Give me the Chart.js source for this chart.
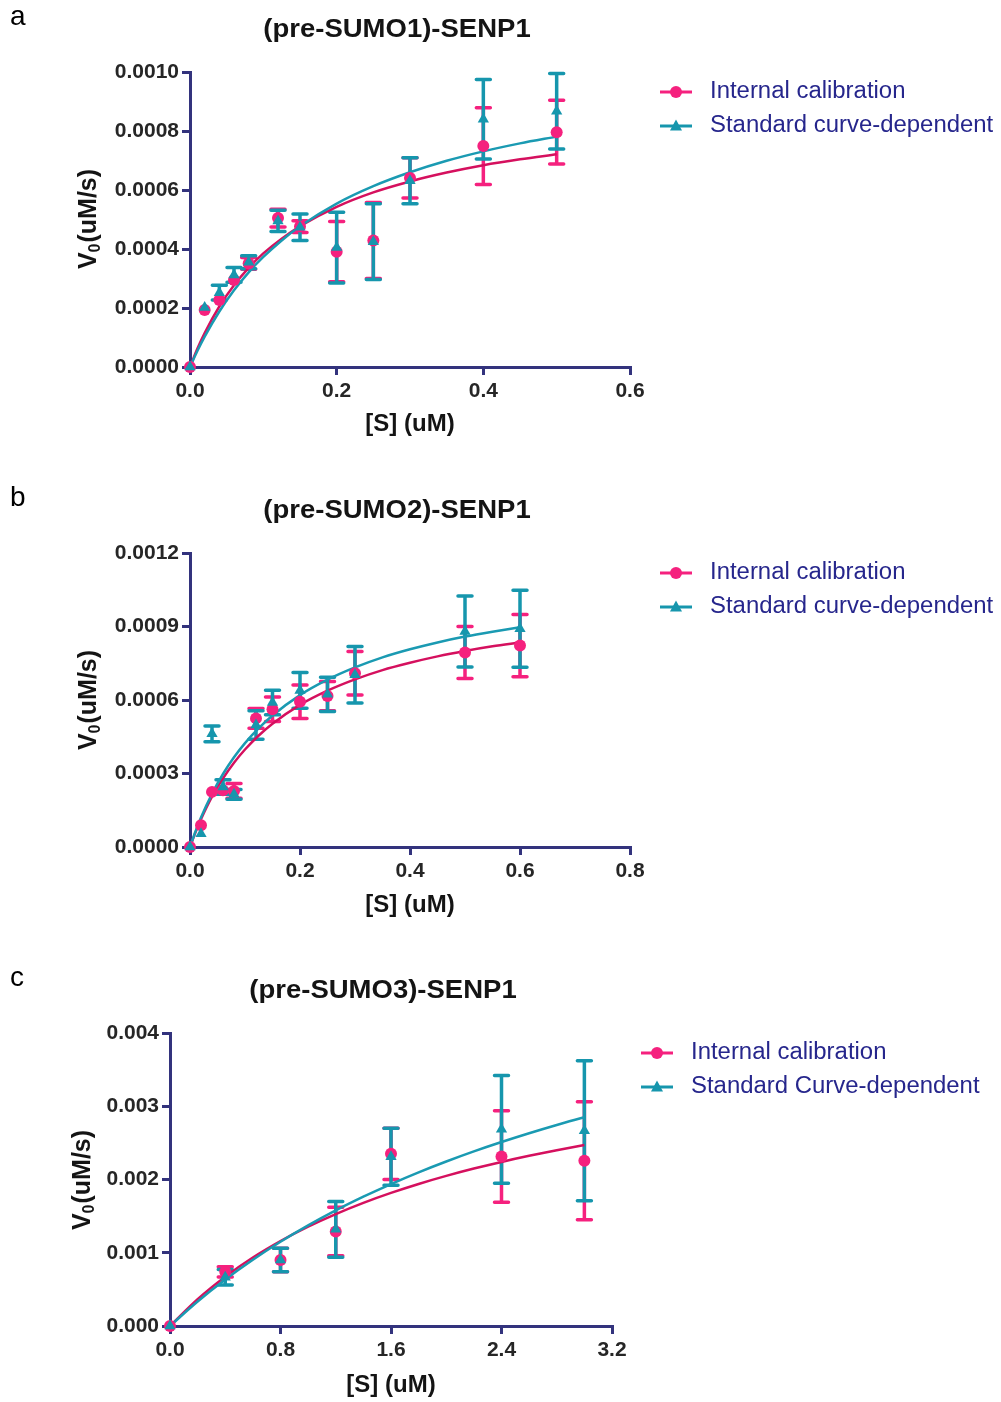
<!DOCTYPE html>
<html><head><meta charset="utf-8">
<script src="https://cdn.jsdelivr.net/npm/chart.js@4.4.1/dist/chart.umd.min.js"></script>
<style>
html,body{margin:0;padding:0;background:#fff;overflow:hidden;width:1001px;height:1402px;}
canvas{position:absolute;left:0;}
</style></head>
<body>
<canvas id="ca" width="1001" height="480" style="top:0px"></canvas>
<canvas id="cb" width="1001" height="480" style="top:481px"></canvas>
<canvas id="cc" width="1001" height="441" style="top:961px"></canvas>
<script>
// ---------- Panel a: (pre-SUMO1)-SENP1 ----------
const aS      = [0, 0.02, 0.04, 0.06, 0.08, 0.12, 0.15, 0.2, 0.25, 0.3, 0.4, 0.5];
const aInt    = [0, 0.000193, 0.000227, 0.000295, 0.000351, 0.000505, 0.000476, 0.000391, 0.000429, 0.000641, 0.000749, 0.000796];
const aIntSD  = [0, 0, 0, 0, 0.00002, 0.00003, 0.00002, 0.000102, 0.000129, 0.000068, 0.00013, 0.000108];
const aStd    = [0, 0.000202, 0.000252, 0.000312, 0.000355, 0.000495, 0.000474, 0.000405, 0.000425, 0.000631, 0.00084, 0.000867];
const aStdSD  = [0, 0, 0.000025, 0.000025, 0.000022, 0.000036, 0.000045, 0.00012, 0.000128, 0.000078, 0.000135, 0.000128];
const aFitX   = [0, 0.01, 0.02, 0.04, 0.06, 0.08, 0.1, 0.125, 0.15, 0.2, 0.25, 0.3, 0.35, 0.4, 0.45, 0.5];
const aFitInt = [0, 0.0000615, 0.000115, 0.000205, 0.000277, 0.000336, 0.000385, 0.000435, 0.000477, 0.000543, 0.000592, 0.000629, 0.000659, 0.000684, 0.000704, 0.000721];
const aFitStd = [0, 0.0000542, 0.000103, 0.000188, 0.00026, 0.000321, 0.000373, 0.000429, 0.000477, 0.000554, 0.000613, 0.00066, 0.000699, 0.000731, 0.000758, 0.000781];
const aXTicks = [0, 0.2, 0.4, 0.6];
const aYTicks = [0, 0.0002, 0.0004, 0.0006, 0.0008, 0.001];

// ---------- Panel b: (pre-SUMO2)-SENP1 ----------
const bS      = [0, 0.02, 0.04, 0.06, 0.08, 0.12, 0.15, 0.2, 0.25, 0.3, 0.5, 0.6];
const bInt    = [0, 0.0000886, 0.000225, 0.000232, 0.000229, 0.000525, 0.000562, 0.000593, 0.000616, 0.000709, 0.000794, 0.000822];
const bIntSD  = [0, 0, 0, 0, 0.00003, 0.00004, 0.00005, 0.000068, 0.00006, 0.000089, 0.000106, 0.000127];
const bStd    = [0, 0.0000545, 0.000462, 0.000245, 0.000215, 0.000498, 0.00059, 0.000639, 0.000623, 0.000703, 0.00088, 0.000891];
const bStdSD  = [0, 0, 0.000032, 0.00003, 0.00002, 0.000058, 0.00005, 0.000073, 0.00007, 0.000115, 0.000145, 0.000157];
const bFitX   = [0, 0.01, 0.02, 0.04, 0.06, 0.08, 0.1, 0.125, 0.15, 0.2, 0.25, 0.3, 0.35, 0.4, 0.45, 0.5, 0.55, 0.6];
const bFitInt = [0, 0.0000598, 0.000113, 0.000205, 0.00028, 0.000344, 0.000398, 0.000455, 0.000503, 0.00058, 0.000638, 0.000684, 0.000722, 0.000752, 0.000778, 0.0008, 0.000819, 0.000835];
const bFitStd = [0, 0.0000633, 0.00012, 0.000217, 0.000298, 0.000366, 0.000424, 0.000485, 0.000537, 0.00062, 0.000683, 0.000733, 0.000774, 0.000807, 0.000835, 0.000859, 0.000879, 0.000897];
const bXTicks = [0, 0.2, 0.4, 0.6, 0.8];
const bYTicks = [0, 0.0003, 0.0006, 0.0009, 0.0012];

// ---------- Panel c: (pre-SUMO3)-SENP1 ----------
const cS      = [0, 0.4, 0.8, 1.2, 1.6, 2.4, 3.0];
const cInt    = [0, 0.00074, 0.0009, 0.00129, 0.00235, 0.002315, 0.002255];
const cIntSD  = [0, 0.00007, 0.00016, 0.00033, 0.00035, 0.000625, 0.000805];
const cStd    = [0, 0.000665, 0.0009, 0.00132, 0.00231, 0.002685, 0.002665];
const cStdSD  = [0, 0.000105, 0.00016, 0.00038, 0.00039, 0.000735, 0.000955];
const cFitX   = [0, 0.2, 0.4, 0.6, 0.8, 1.0, 1.2, 1.4, 1.6, 1.8, 2.0, 2.2, 2.4, 2.6, 2.8, 3.0];
const cFitInt = [0, 0.000366, 0.000673, 0.000935, 0.00116, 0.001356, 0.001528, 0.001681, 0.001817, 0.001939, 0.002049, 0.002149, 0.00224, 0.002323, 0.002399, 0.00247];
const cFitStd = [0, 0.000334, 0.000634, 0.000905, 0.00115, 0.001373, 0.001578, 0.001765, 0.001938, 0.002098, 0.002246, 0.002384, 0.002512, 0.002632, 0.002745, 0.00285];
const cXTicks = [0, 0.8, 1.6, 2.4, 3.2];
const cYTicks = [0, 0.001, 0.002, 0.003, 0.004];

const seriesLabels = ['Internal calibration', 'Standard curve-dependent', 'Standard Curve-dependent'];

// ---------- styles ----------
const FAM = '"Liberation Sans", Arial, sans-serif';
const PINK = '#f5217e';
const PINK_LINE = '#d5105e';
const TEAL = '#1696ad';
const TEAL_LINE = '#1a9ab2';
const AXIS = '#33337d';
const TICK = '#262626';
const LEG_TEXT = '#26268c';

function txt(ctx, s, x, y, font, color, sx, align, base) {
  ctx.save();
  ctx.font = font; ctx.fillStyle = color;
  ctx.textAlign = align || 'center'; ctx.textBaseline = base || 'middle';
  ctx.translate(x, y); ctx.scale(sx, 1);
  ctx.fillText(s, 0, 0);
  ctx.restore();
}
function marker(ctx, style, x, y, r, color) {
  ctx.save(); ctx.fillStyle = color; ctx.beginPath();
  if (style === 'circle') { ctx.arc(x, y, r, 0, Math.PI * 2); }
  else { ctx.moveTo(x, y - r * 1.1); ctx.lineTo(x + r, y + r * 0.75); ctx.lineTo(x - r, y + r * 0.75); ctx.closePath(); }
  ctx.fill(); ctx.restore();
}

const errorBars = {
  id: 'errorBars',
  beforeDatasetsDraw(chart) {
    const ctx = chart.ctx, xs = chart.scales.x, ys = chart.scales.y;
    [0, 1].forEach(di => {
      const ds = chart.data.datasets[di];
      ctx.save();
      ctx.strokeStyle = ds.backgroundColor; ctx.lineWidth = 3.5; ctx.lineCap = 'round';
      ds.data.forEach((pt, i) => {
        const sd = ds.sd[i]; if (!sd) return;
        const px = xs.getPixelForValue(pt.x);
        const t = ys.getPixelForValue(pt.y + sd), b = ys.getPixelForValue(pt.y - sd);
        ctx.beginPath();
        ctx.moveTo(px, t); ctx.lineTo(px, b);
        ctx.moveTo(px - 7, t); ctx.lineTo(px + 7, t);
        ctx.moveTo(px - 7, b); ctx.lineTo(px + 7, b);
        ctx.stroke();
      });
      ctx.restore();
    });
  }
};

const decor = {
  id: 'decor',
  afterDraw(chart, args, o) {
    const ctx = chart.ctx;
    txt(ctx, o.letter, 10, 25, '28px ' + FAM, '#000', 1, 'left', 'alphabetic');
    txt(ctx, o.title, o.titleX, 37, 'bold 25px ' + FAM, '#141414', 1.1, 'center', 'alphabetic');
    txt(ctx, '[S] (uM)', o.xTitleX, 424, 'bold 24px ' + FAM, '#141414', 1, 'center', 'middle');
    // y title with subscript, rotated
    ctx.save();
    ctx.translate(o.yTitleX, 219); ctx.rotate(-Math.PI / 2);
    ctx.fillStyle = '#141414'; ctx.textBaseline = 'middle'; ctx.textAlign = 'left';
    const fMain = 'bold 25px ' + FAM, fSub = 'bold 16px ' + FAM;
    ctx.font = fMain; const wV = ctx.measureText('V').width; const wR = ctx.measureText('(uM/s)').width;
    ctx.font = fSub; const wS = ctx.measureText('0').width;
    const tot = wV + wS + 1 + wR; let x0 = -tot / 2;
    ctx.font = fMain; ctx.fillText('V', x0, 0);
    ctx.font = fSub; ctx.fillText('0', x0 + wV, 7);
    ctx.font = fMain; ctx.fillText('(uM/s)', x0 + wV + wS + 1, 0);
    ctx.restore();
    // legend
    const rows = [
      { label: o.leg1, color: PINK, style: 'circle', y: 92 },
      { label: o.leg2, color: TEAL, style: 'triangle', y: 126 }
    ];
    rows.forEach(r => {
      ctx.save();
      ctx.strokeStyle = r.color; ctx.lineWidth = 3;
      ctx.beginPath(); ctx.moveTo(o.legX, r.y); ctx.lineTo(o.legX + 32, r.y); ctx.stroke();
      ctx.restore();
      marker(ctx, r.style, o.legX + 16, r.y, 6, r.color);
      txt(ctx, r.label, o.legX + 50, r.y, '23px ' + FAM, LEG_TEXT, 1.04, 'left', 'middle');
    });
  }
};

function makeChart(id, p) {
  const cv = document.getElementById(id);
  const H = cv.height;
  const pts = (xs, ys) => xs.map((x, i) => ({ x: x, y: ys[i] }));
  return new Chart(cv, {
    type: 'scatter',
    data: {
      datasets: [
        { label: p.leg1, data: pts(p.S, p.int), sd: p.intSD, pointStyle: 'circle', pointRadius: 6,
          backgroundColor: PINK, borderColor: PINK, borderWidth: 0, showLine: false, order: 1, clip: false },
        { label: p.leg2, data: pts(p.S, p.std), sd: p.stdSD, pointStyle: 'triangle', pointRadius: 6.5,
          backgroundColor: TEAL, borderColor: TEAL, borderWidth: 0, showLine: false, order: 0, clip: false },
        { type: 'line', data: pts(p.fitX, p.fitInt), borderColor: PINK_LINE, borderWidth: 2.5, pointRadius: 0,
          cubicInterpolationMode: 'monotone', fill: false, order: 3, clip: false },
        { type: 'line', data: pts(p.fitX, p.fitStd), borderColor: TEAL_LINE, borderWidth: 2.5, pointRadius: 0,
          cubicInterpolationMode: 'monotone', fill: false, order: 2, clip: false }
      ]
    },
    options: {
      responsive: false, animation: false, events: [],
      layout: { padding: { left: 0, top: p.top, right: 1001 - p.right, bottom: 0 } },
      plugins: {
        legend: { display: false }, tooltip: { enabled: false },
        decor: { letter: p.letter, title: p.title, titleX: p.titleX, xTitleX: p.xTitleX, yTitleX: p.yTitleX,
                 legX: p.legX, leg1: p.leg1, leg2: p.leg2 }
      },
      scales: {
        x: {
          type: 'linear', position: 'bottom', min: 0, max: p.xTicks[p.xTicks.length - 1],
          afterFit(s) { s.height = H - p.bottom; },
          afterBuildTicks(s) { s.ticks = p.xTicks.map(v => ({ value: v })); },
          ticks: { callback: v => Number(v).toFixed(1), font: { family: FAM, size: 21, weight: 'bold' }, color: TICK,
                   padding: 4, maxRotation: 0, autoSkip: false },
          grid: { drawOnChartArea: false, color: AXIS, lineWidth: 3, tickLength: 8 },
          border: { color: AXIS, width: 3 }
        },
        y: {
          type: 'linear', position: 'left', min: 0, max: p.yTicks[p.yTicks.length - 1],
          afterFit(s) { s.width = p.left; },
          afterBuildTicks(s) { s.ticks = p.yTicks.map(v => ({ value: v })); },
          ticks: { callback: v => Number(v).toFixed(p.yDec), font: { family: FAM, size: 21, weight: 'bold' }, color: TICK,
                   padding: 3, autoSkip: false },
          grid: { drawOnChartArea: false, color: AXIS, lineWidth: 3, tickLength: 8 },
          border: { color: AXIS, width: 3 }
        }
      }
    },
    plugins: [errorBars, decor]
  });
}

makeChart('ca', { S: aS, int: aInt, intSD: aIntSD, std: aStd, stdSD: aStdSD, fitX: aFitX, fitInt: aFitInt, fitStd: aFitStd,
  xTicks: aXTicks, yTicks: aYTicks, yDec: 4, left: 190, right: 630, top: 72, bottom: 367,
  letter: 'a', title: '(pre-SUMO1)-SENP1', titleX: 397, xTitleX: 410, yTitleX: 89, legX: 660,
  leg1: seriesLabels[0], leg2: seriesLabels[1] });
makeChart('cb', { S: bS, int: bInt, intSD: bIntSD, std: bStd, stdSD: bStdSD, fitX: bFitX, fitInt: bFitInt, fitStd: bFitStd,
  xTicks: bXTicks, yTicks: bYTicks, yDec: 4, left: 190, right: 630, top: 72, bottom: 366,
  letter: 'b', title: '(pre-SUMO2)-SENP1', titleX: 397, xTitleX: 410, yTitleX: 89, legX: 660,
  leg1: seriesLabels[0], leg2: seriesLabels[1] });
makeChart('cc', { S: cS, int: cInt, intSD: cIntSD, std: cStd, stdSD: cStdSD, fitX: cFitX, fitInt: cFitInt, fitStd: cFitStd,
  xTicks: cXTicks, yTicks: cYTicks, yDec: 3, left: 170, right: 612, top: 72, bottom: 365,
  letter: 'c', title: '(pre-SUMO3)-SENP1', titleX: 383, xTitleX: 391, yTitleX: 83, legX: 641,
  leg1: seriesLabels[0], leg2: seriesLabels[2] });
</script>
</body></html>
